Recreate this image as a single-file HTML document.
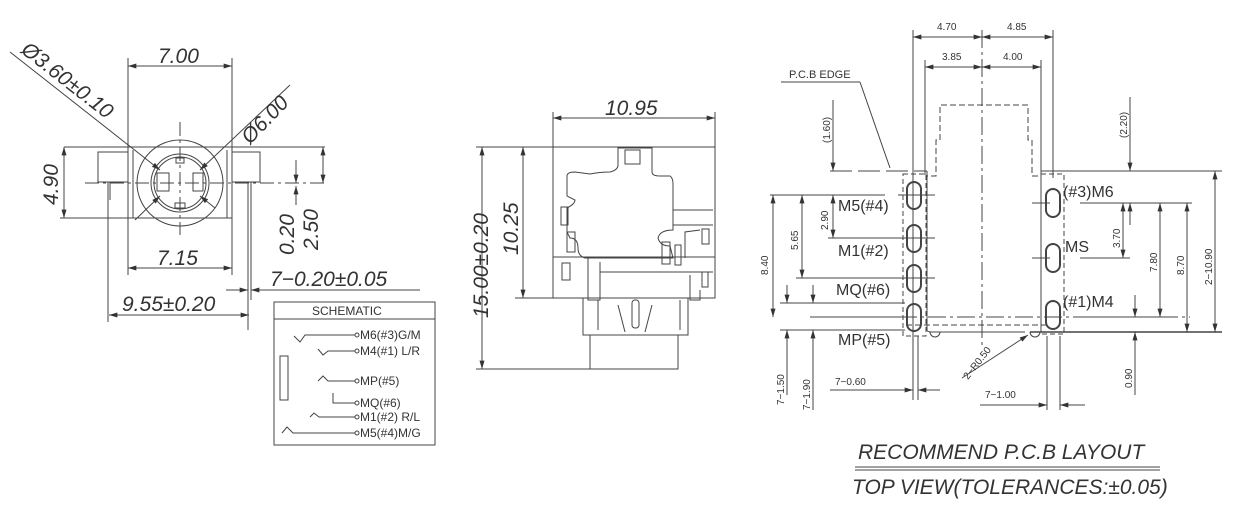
<!DOCTYPE html>
<html><head><meta charset="utf-8"><style>
html,body{margin:0;padding:0;background:#fff;}
svg{display:block}
text{font-family:"Liberation Sans",sans-serif;fill:#333;}
.d{font-style:italic;font-size:21px;font-weight:300;}
.s{font-size:12px;}
.m{font-size:16px;}
</style></head><body>
<svg width="1244" height="522" viewBox="0 0 1244 522" xmlns="http://www.w3.org/2000/svg">
<defs>
<marker id="a" viewBox="0 0 10 6" refX="10" refY="3" markerWidth="9" markerHeight="5" orient="auto-start-reverse"><path d="M0,0L10,3L0,6z" fill="#333"/></marker>
</defs>
<g stroke="#444" stroke-width="1" fill="none">
<!-- LEFT VIEW -->
<line x1="128" y1="58" x2="128" y2="275"/><line x1="232" y1="58" x2="232" y2="275"/>
<line x1="128" y1="66" x2="232" y2="66" marker-start="url(#a)" marker-end="url(#a)"/>
<line x1="64" y1="147" x2="325" y2="147"/>
<rect x="98" y="152" width="30" height="30"/><rect x="232" y="152" width="28" height="30"/>
<rect x="128" y="147" width="104" height="71"/>
<line x1="133" y1="150" x2="133" y2="218"/><line x1="227" y1="150" x2="227" y2="218"/>
<circle cx="180" cy="183" r="43"/><circle cx="180" cy="183" r="29"/><circle cx="180" cy="183" r="26"/>
<rect x="157" y="173" width="12" height="18"/><rect x="193" y="173" width="10" height="18"/>
<rect x="176" y="158" width="8" height="5"/><rect x="175" y="203" width="10" height="5"/>
<line x1="85" y1="183" x2="325" y2="183" stroke-dasharray="14 4 3 4"/>
<line x1="180" y1="122" x2="180" y2="235" stroke-dasharray="14 4 3 4"/>
<line x1="10" y1="52" x2="160" y2="170" marker-end="url(#a)"/>
<line x1="200" y1="196" x2="215" y2="208" marker-start="url(#a)"/>
<line x1="290" y1="85" x2="200" y2="170" marker-end="url(#a)"/>
<line x1="160" y1="196" x2="135" y2="220" marker-start="url(#a)"/>
<line x1="64" y1="147" x2="64" y2="218" marker-start="url(#a)" marker-end="url(#a)"/>
<line x1="60" y1="218" x2="128" y2="218"/>
<line x1="323" y1="147" x2="323" y2="183" marker-start="url(#a)" marker-end="url(#a)"/>
<line x1="296" y1="160" x2="296" y2="183" marker-end="url(#a)"/><line x1="296" y1="186" x2="296" y2="205" marker-start="url(#a)"/>
<line x1="128" y1="268" x2="232" y2="268" marker-start="url(#a)" marker-end="url(#a)"/>
<line x1="108" y1="182" x2="108" y2="322"/><line x1="110" y1="182" x2="110" y2="200"/>
<line x1="248" y1="182" x2="248" y2="330"/><line x1="251" y1="182" x2="251" y2="300"/>
<line x1="109" y1="315" x2="249" y2="315" marker-start="url(#a)" marker-end="url(#a)"/>
<line x1="226" y1="290" x2="248" y2="290" marker-end="url(#a)"/>
<line x1="251" y1="290" x2="420" y2="290" marker-start="url(#a)"/>
<!-- schematic -->
<rect x="274" y="302" width="161" height="143"/>
<line x1="274" y1="319" x2="435" y2="319"/>
<rect x="280" y="356" width="8" height="44"/>
<polyline points="294,336 300,342 305,335 355,335"/>
<polyline points="318,349 323,355 328,351 355,351"/>
<polyline points="318,381 323,376 328,381 355,381"/>
<polyline points="333,393 333,403 355,403"/>
<polyline points="310,417 314,413 319,417 355,417"/>
<polyline points="282,433 287,427 293,433 355,433"/>
<circle cx="357" cy="335" r="2"/><circle cx="357" cy="351" r="2"/><circle cx="357" cy="381" r="2"/>
<circle cx="357" cy="403" r="2"/><circle cx="357" cy="417" r="2"/><circle cx="357" cy="433" r="2"/>

<!-- MIDDLE VIEW -->
<line x1="553" y1="112" x2="553" y2="147"/><line x1="715" y1="112" x2="715" y2="147"/>
<line x1="553" y1="118" x2="715" y2="118" marker-start="url(#a)" marker-end="url(#a)"/>
<rect x="553" y="147" width="162" height="151"/>
<polyline points="583,298 583,335 688,335 688,298"/>
<rect x="590" y="335" width="88" height="34"/>
<line x1="476" y1="147" x2="553" y2="147"/><line x1="476" y1="369" x2="590" y2="369"/>
<line x1="515" y1="298" x2="553" y2="298"/>
<line x1="482" y1="147" x2="482" y2="369" marker-start="url(#a)" marker-end="url(#a)"/>
<line x1="523" y1="147" x2="523" y2="298" marker-start="url(#a)" marker-end="url(#a)"/>
<path d="M618,148 L652,148 L652,172 Q652,176 660,176 L670,176 Q673,178 673,184 L673,230 Q660,230 658,238 Q660,246 670,246 L673,258 L585,258 Q578,256 578,248 Q578,238 570,238 L567,232 L567,208 Q575,204 575,200 L567,196 L567,176 Q567,172 575,172 L590,174 Q600,172 610,172 Q618,170 618,165 Z"/>
<rect x="625" y="150" width="15" height="14"/>
<line x1="673" y1="210" x2="713" y2="210"/>
<line x1="673" y1="225" x2="713" y2="225"/>
<line x1="553" y1="257" x2="715" y2="257"/><line x1="600" y1="272" x2="713" y2="272"/>
<rect x="561" y="207" width="7" height="18"/><rect x="567" y="232" width="8" height="20"/>
<rect x="562" y="263" width="8" height="17"/>
<rect x="702" y="229" width="7" height="15"/><rect x="702" y="272" width="6" height="15"/>
<rect x="662" y="242" width="8" height="22"/><rect x="675" y="245" width="6" height="20"/>
<path d="M685,258 L685,232 L700,230 M690,275 L690,300 L700,300 L700,290"/>
<rect x="632" y="300" width="7" height="28" rx="3"/>
<path d="M618,305 L625,332 M652,305 L645,332 M598,300 L598,330 M680,300 L680,330"/>
<path d="M588,258 L588,300 L600,300 L600,262"/>

<!-- RIGHT VIEW -->
<line x1="913" y1="30" x2="913" y2="400"/><line x1="982" y1="30" x2="982" y2="345" stroke-dasharray="18 4 3 4"/>
<line x1="1053" y1="30" x2="1053" y2="178"/>
<line x1="913" y1="37" x2="982" y2="37" marker-start="url(#a)" marker-end="url(#a)"/>
<line x1="982" y1="37" x2="1053" y2="37" marker-start="url(#a)" marker-end="url(#a)"/>
<line x1="925" y1="60" x2="925" y2="175"/><line x1="1041" y1="60" x2="1041" y2="175"/>
<line x1="925" y1="67" x2="982" y2="67" marker-start="url(#a)" marker-end="url(#a)"/>
<line x1="982" y1="67" x2="1041" y2="67" marker-start="url(#a)" marker-end="url(#a)"/>
<line x1="781" y1="82" x2="860" y2="82"/><line x1="860" y1="82" x2="890" y2="168"/>
<line x1="830" y1="171" x2="927" y2="171" stroke-dasharray="22 6"/>
<line x1="1041" y1="171" x2="1222" y2="171"/>
<polyline points="927,171 927,176 936,176 936,140 940,140 940,105 1028,105 1028,140 1032,140 1032,176 1041,176 1041,171" stroke-dasharray="6 3"/>
<rect x="903" y="174" width="23" height="162" stroke-dasharray="5 3"/>
<rect x="1041" y="174" width="23" height="160" stroke-dasharray="5 3"/>
<line x1="927" y1="176" x2="927" y2="330"/><line x1="1041" y1="176" x2="1041" y2="330"/>
<path d="M927,330 Q927,332 932,332 L1025,332" />
<line x1="870" y1="317" x2="1190" y2="317" stroke-dasharray="18 4 3 4"/>
<line x1="906" y1="325" x2="1050" y2="325" stroke-dasharray="6 3"/>
<line x1="1030" y1="332" x2="1222" y2="332" stroke-width="1.4"/>
<path d="M930,332 A5,5 0 0 0 940,332 M1030,332 A5,5 0 0 0 1040,332"/>
<g stroke-width="2">
<rect x="907" y="182" width="14" height="27" rx="7"/><rect x="907" y="225" width="14" height="27" rx="7"/>
<rect x="907" y="265" width="14" height="27" rx="7"/><rect x="907" y="304" width="14" height="27" rx="7"/>
<rect x="1046" y="189" width="14" height="28" rx="7"/><rect x="1046" y="244" width="14" height="28" rx="7"/>
<rect x="1046" y="301" width="14" height="28" rx="7"/>
</g>
<line x1="913" y1="336" x2="913" y2="400"/><line x1="918" y1="336" x2="918" y2="400"/>
<line x1="1047" y1="336" x2="1047" y2="410"/><line x1="1060" y1="336" x2="1060" y2="410"/>
<line x1="770" y1="195" x2="885" y2="195"/><line x1="898" y1="195" x2="935" y2="195"/>
<line x1="828" y1="238" x2="935" y2="238"/><line x1="796" y1="278" x2="935" y2="278"/>
<line x1="780" y1="303" x2="905" y2="303"/><line x1="810" y1="317" x2="905" y2="317"/>
<line x1="780" y1="330" x2="905" y2="330"/>
<line x1="1032" y1="203" x2="1050" y2="203"/><line x1="1080" y1="203" x2="1192" y2="203"/>
<line x1="1032" y1="258" x2="1050" y2="258"/><line x1="1080" y1="258" x2="1130" y2="258"/>
<line x1="1080" y1="317" x2="1165" y2="317"/>
<line x1="773" y1="195" x2="773" y2="317" marker-start="url(#a)" marker-end="url(#a)"/>
<line x1="802" y1="195" x2="802" y2="278" marker-start="url(#a)" marker-end="url(#a)"/>
<line x1="833" y1="100" x2="833" y2="171" marker-end="url(#a)"/>
<line x1="833" y1="195" x2="833" y2="238" marker-start="url(#a)" marker-end="url(#a)"/>
<line x1="787" y1="285" x2="787" y2="303" marker-end="url(#a)"/><line x1="787" y1="330" x2="787" y2="395" marker-start="url(#a)"/>
<line x1="813" y1="285" x2="813" y2="303" marker-end="url(#a)"/><line x1="813" y1="330" x2="813" y2="410" marker-start="url(#a)"/>
<line x1="1130" y1="97" x2="1130" y2="171" marker-end="url(#a)"/>
<line x1="1130" y1="203" x2="1130" y2="225" marker-start="url(#a)"/>
<line x1="1123" y1="203" x2="1123" y2="258" marker-start="url(#a)" marker-end="url(#a)"/>
<line x1="1160" y1="203" x2="1160" y2="317" marker-start="url(#a)" marker-end="url(#a)"/>
<line x1="1187" y1="203" x2="1187" y2="332" marker-start="url(#a)" marker-end="url(#a)"/>
<line x1="1215" y1="171" x2="1215" y2="332" marker-start="url(#a)" marker-end="url(#a)"/>
<line x1="1135" y1="295" x2="1135" y2="317" marker-end="url(#a)"/><line x1="1135" y1="332" x2="1135" y2="395" marker-start="url(#a)"/>
<line x1="830" y1="390" x2="913" y2="390" marker-end="url(#a)"/><line x1="918" y1="390" x2="940" y2="390" marker-start="url(#a)"/>
<line x1="980" y1="405" x2="1047" y2="405" marker-end="url(#a)"/><line x1="1060" y1="405" x2="1085" y2="405" marker-start="url(#a)"/>
<line x1="962" y1="378" x2="1028" y2="335" marker-end="url(#a)"/>
<line x1="855" y1="467" x2="1160" y2="467"/><line x1="855" y1="470" x2="1160" y2="470"/>
</g>
<!-- texts -->
<text class="d" x="158" y="63">7.00</text>
<text class="d" x="157" y="265">7.15</text>
<text class="d" x="122" y="311">9.55±0.20</text>
<text class="d" x="270" y="286">7−0.20±0.05</text>
<text class="d" transform="translate(20,52) rotate(38)">Ø3.60±0.10</text>
<text class="d" transform="translate(250,145) rotate(-46)">Ø6.00</text>
<text class="d" transform="translate(58,205) rotate(-90)">4.90</text>
<text class="d" transform="translate(318,250) rotate(-90)">2.50</text>
<text class="d" transform="translate(294,255) rotate(-90)">0.20</text>
<text class="s" x="312" y="315">SCHEMATIC</text>
<g class="s"><text x="360" y="339">M6(#3)G/M</text><text x="360" y="355">M4(#1) L/R</text>
<text x="360" y="385">MP(#5)</text><text x="360" y="407">MQ(#6)</text>
<text x="360" y="421">M1(#2) R/L</text><text x="360" y="437">M5(#4)M/G</text></g>
<text class="d" x="605" y="115">10.95</text>
<text class="d" transform="translate(488,318) rotate(-90)">15.00±0.20</text>
<text class="d" transform="translate(518,255) rotate(-90)">10.25</text>
<g font-size="10"><text x="937" y="30">4.70</text><text x="1007" y="30">4.85</text>
<text x="942" y="60">3.85</text><text x="1003" y="60">4.00</text>
<text transform="translate(830,143) rotate(-90)">(1.60)</text>
<text transform="translate(828,230) rotate(-90)">2.90</text>
<text transform="translate(798,250) rotate(-90)">5.65</text>
<text transform="translate(768,275) rotate(-90)">8.40</text>
<text transform="translate(784,405) rotate(-90)">7−1.50</text>
<text transform="translate(810,410) rotate(-90)">7−1.90</text>
<text x="835" y="385">7−0.60</text><text x="985" y="398">7−1.00</text>
<text transform="translate(968,380) rotate(-52)">2−R0.50</text>
<text transform="translate(1127,138) rotate(-90)">(2.20)</text>
<text transform="translate(1120,248) rotate(-90)">3.70</text>
<text transform="translate(1157,272) rotate(-90)">7.80</text>
<text transform="translate(1184,275) rotate(-90)">8.70</text>
<text transform="translate(1212,285) rotate(-90)">2−10.90</text>
<text transform="translate(1132,388) rotate(-90)">0.90</text></g>
<text x="789" y="78" font-size="11">P.C.B EDGE</text>
<g class="m"><text x="838" y="211">M5(#4)</text><text x="838" y="256">M1(#2)</text>
<text x="836" y="295">MQ(#6)</text><text x="838" y="345">MP(#5)</text>
<text x="1063" y="197">(#3)M6</text><text x="1065" y="252">MS</text><text x="1063" y="307">(#1)M4</text></g>
<text class="d" x="858" y="459" font-size="19">RECOMMEND P.C.B LAYOUT</text>
<text class="d" x="852" y="494" font-size="19">TOP VIEW(TOLERANCES:±0.05)</text>
</svg>
</body></html>
